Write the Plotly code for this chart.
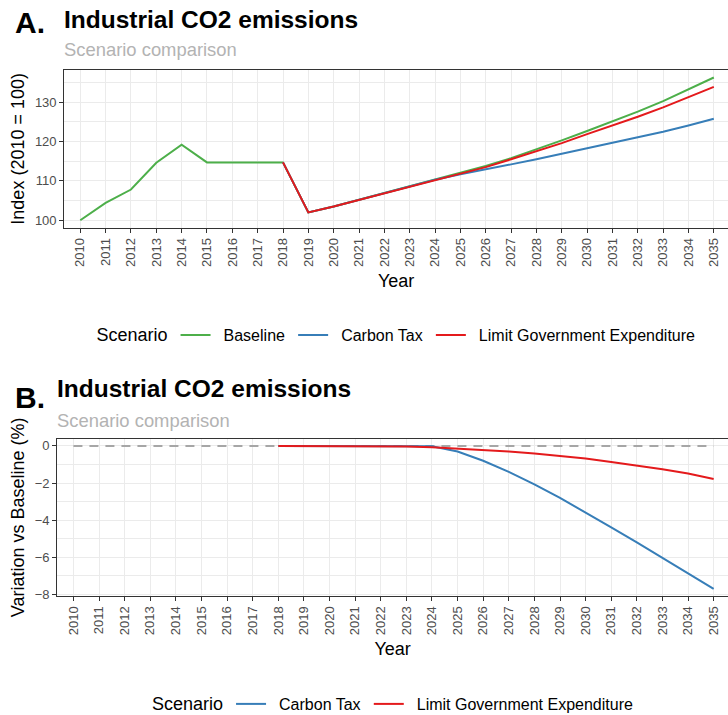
import plotly.graph_objects as go

W, H = 728, 715
H_FIG = 740  # extra space below the visible window so the bottom legend never pushes margins

years = list(range(2010, 2036))
years_policy = list(range(2018, 2036))

baseline = [100.0, 104.4, 107.8, 114.6, 119.2, 114.7, 114.7, 114.7, 114.7, 102.0,
            103.5, 105.2, 106.9, 108.6, 110.3, 112.0, 113.8, 115.8, 118.0, 120.3,
            122.7, 125.1, 127.6, 130.3, 133.2, 136.3]
carbon_tax = [114.7, 102.0, 103.5, 105.2, 106.9, 108.6, 110.3, 111.7, 112.9, 114.2,
              115.5, 116.9, 118.3, 119.6, 121.0, 122.5, 124.1, 125.8]
limit_gov = [114.7, 102.0, 103.5, 105.2, 106.9, 108.6, 110.2, 111.8, 113.5, 115.5,
             117.5, 119.6, 121.9, 124.0, 126.3, 128.7, 131.2, 133.9]

var_carbon_tax = [0.0, 0.0, 0.0, 0.0, 0.0, 0.0, -0.02, -0.3, -0.8, -1.4,
                  -2.07, -2.8, -3.58, -4.39, -5.2, -6.02, -6.85, -7.7]
var_limit_gov = [0.0, 0.0, 0.0, 0.0, -0.01, -0.03, -0.07, -0.14, -0.22, -0.3,
                 -0.41, -0.54, -0.68, -0.86, -1.04, -1.26, -1.49, -1.78]
zero_line = [0.0] * len(years)

series_colors = {"Baseline": "#4DAF4A", "Carbon Tax": "#377EB8",
                 "Limit Government Expenditure": "#E41A1C"}

FONT = "Liberation Sans, Arial, Helvetica, sans-serif"
TICK_C = "#4D4D4D"
GRID = "#EBEBEB"
AXC = "#333333"


def px_x(p):
    return p / W


def px_y(p):
    return 1 - p / H_FIG


def label(name):
    # small spacing around legend labels, like ggplot's key spacing
    return "\u2002" + name + "\u2009"


fig = go.Figure()

# Panel A
fig.add_trace(go.Scatter(x=years, y=baseline, mode="lines", name=label("Baseline"),
                         line=dict(color=series_colors["Baseline"], width=2),
                         xaxis="x", yaxis="y", legend="legend"))
fig.add_trace(go.Scatter(x=years_policy, y=carbon_tax, mode="lines", name=label("Carbon Tax"),
                         line=dict(color=series_colors["Carbon Tax"], width=2),
                         xaxis="x", yaxis="y", legend="legend"))
fig.add_trace(go.Scatter(x=years_policy, y=limit_gov, mode="lines",
                         name=label("Limit Government Expenditure"),
                         line=dict(color=series_colors["Limit Government Expenditure"], width=2),
                         xaxis="x", yaxis="y", legend="legend"))

# Panel B
fig.add_trace(go.Scatter(x=years, y=zero_line, mode="lines", showlegend=False,
                         line=dict(color="#A6A6A6", width=2, dash="9px,7px"),
                         xaxis="x2", yaxis="y2", hoverinfo="skip"))
fig.add_trace(go.Scatter(x=years_policy, y=var_carbon_tax, mode="lines", name=label("Carbon Tax"),
                         line=dict(color=series_colors["Carbon Tax"], width=2),
                         xaxis="x2", yaxis="y2", legend="legend2"))
fig.add_trace(go.Scatter(x=years_policy, y=var_limit_gov, mode="lines",
                         name=label("Limit Government Expenditure"),
                         line=dict(color=series_colors["Limit Government Expenditure"], width=2),
                         xaxis="x2", yaxis="y2", legend="legend2"))

xaxis_common = dict(
    tickmode="array", tickvals=years, ticktext=[str(y) for y in years],
    tickangle=-90, tickfont=dict(size=13, color=TICK_C, family=FONT),
    showgrid=True, gridcolor=GRID, gridwidth=1.1,
    showline=True, linecolor=AXC, linewidth=1.2, mirror=True,
    ticks="outside", ticklen=4, tickcolor=AXC, tickwidth=1,
    zeroline=False, range=[2009.37, 2035.56], automargin=False,
    title=dict(text="Year", font=dict(size=18, color="black", family=FONT), standoff=8),
)

yaxis_common = dict(
    tickfont=dict(size=13, color=TICK_C, family=FONT),
    showgrid=True, gridcolor=GRID, gridwidth=1.1,
    showline=True, linecolor=AXC, linewidth=1.2, mirror=False,
    ticks="outside", ticklen=4, tickcolor=AXC, zeroline=False, automargin=False,
)

legend_common = dict(
    orientation="h", xanchor="center", yanchor="middle",
    font=dict(size=16, color="black"), bgcolor="rgba(0,0,0,0)", itemwidth=30,
)

fig.update_layout(
    width=W, height=H_FIG,
    margin=dict(l=0, r=0, t=0, b=0),
    paper_bgcolor="white", plot_bgcolor="white",
    font=dict(family=FONT),
    xaxis=dict(domain=[px_x(64.3), 1], anchor="y", **xaxis_common),
    yaxis=dict(domain=[px_y(227.7), px_y(70)], anchor="x", range=[98.1, 138.2],
               tickvals=[100, 110, 120, 130],
               minor=dict(dtick=5, tick0=0, showgrid=True, gridcolor=GRID, gridwidth=0.6, ticks=""),
               title=dict(text="Index (2010 = 100)", standoff=5,
                          font=dict(size=18, color="black", family=FONT)),
               **yaxis_common),
    xaxis2=dict(domain=[px_x(57.3), 1], anchor="y2", **xaxis_common),
    yaxis2=dict(domain=[px_y(596), px_y(438.7)], anchor="x2", range=[-8.09, 0.39],
                tickvals=[-8, -6, -4, -2, 0],
                minor=dict(dtick=1, tick0=0, showgrid=True, gridcolor=GRID, gridwidth=0.6, ticks=""),
                title=dict(text="Variation vs Baseline (%)", standoff=5,
                           font=dict(size=18, color="black", family=FONT)),
                **yaxis_common),
    legend=dict(x=px_x(399), y=px_y(335),
                title=dict(text="Scenario", side="left", font=dict(size=18, color="black")),
                **legend_common),
    legend2=dict(x=px_x(396), y=px_y(704),
                 title=dict(text="Scenario", side="left", font=dict(size=18, color="black")),
                 **legend_common),
    showlegend=True,
)

annotations = [
    dict(text="<b>A.</b>", x=px_x(13), y=px_y(22), xanchor="left", yanchor="middle",
         font=dict(size=30, color="black")),
    dict(text="<b>Industrial CO2 emissions</b>", x=px_x(62), y=px_y(20), xanchor="left",
         yanchor="middle", font=dict(size=24.5, color="black")),
    dict(text="Scenario comparison", x=px_x(62), y=px_y(50), xanchor="left", yanchor="middle",
         font=dict(size=18.4, color="#B3B3B3")),
    dict(text="<b>B.</b>", x=px_x(13), y=px_y(398), xanchor="left", yanchor="middle",
         font=dict(size=30, color="black")),
    dict(text="<b>Industrial CO2 emissions</b>", x=px_x(55), y=px_y(388), xanchor="left",
         yanchor="middle", font=dict(size=24.5, color="black")),
    dict(text="Scenario comparison", x=px_x(55), y=px_y(420), xanchor="left", yanchor="middle",
         font=dict(size=18.4, color="#B3B3B3")),
]
for a in annotations:
    a.update(xref="paper", yref="paper", showarrow=False)
fig.update_layout(annotations=annotations)

fig.write_html(
    "out.html",
    config={"displayModeBar": False},
    post_script="document.body.style.margin='0';document.body.style.padding='0';"
                "document.body.style.overflow='hidden';",
)
